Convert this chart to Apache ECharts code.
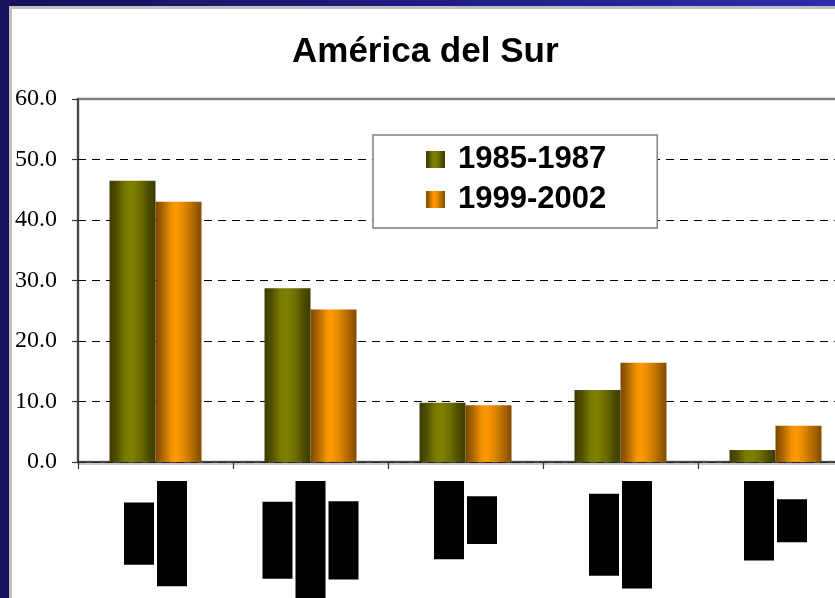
<!DOCTYPE html>
<html>
<head>
<meta charset="utf-8">
<script src="https://cdn.jsdelivr.net/npm/echarts@6/dist/echarts.min.js"></script>
<style>
    html, body { margin: 0; padding: 0; }
    body {
        width: 835px; height: 598px; overflow: hidden; position: relative;
        background: linear-gradient(90deg, #15125a 0%, #1e1c82 50%, #2c2cad 100%);
    }
    #sheet {
        position: absolute; left: 9px; top: 6px; right: 0; bottom: 0;
        background: #fff;
        border-left: 3px solid #c0c0c0; border-top: 3px solid #c0c0c0;
    }
    #chart { position: absolute; left: 0; top: 0; width: 835px; height: 598px; }
</style>
</head>
<body>
<div id="sheet"></div>
<div id="chart"></div>
<script>
// categorias (texto de eje girado) y valores por periodo
var categories = ["Carne\nHortalizas", "Raíces,\ntubérculos,\nFrijoles", "Aceites\nMaíz", "Leche y\nproductos", "Huevos\nMiel"];
var periods = ["1985-1987", "1999-2002"];
var v1985 = [46.5, 28.7, 9.8, 11.9, 2.0];
var v1999 = [43.0, 25.2, 9.4, 16.4, 6.0];

var myChart = echarts.init(document.getElementById('chart'));

// sombreado tipo cilindro de Excel
var olive = new echarts.graphic.LinearGradient(0, 0, 1, 0, [
    { offset: 0, color: '#3c3c00' },
    { offset: 0.15, color: '#4f4f00' },
    { offset: 0.35, color: '#7a7a00' },
    { offset: 0.5, color: '#808000' },
    { offset: 0.68, color: '#6c6c00' },
    { offset: 0.85, color: '#4d4d00' },
    { offset: 1, color: '#3c3c00' }
]);
var orange = new echarts.graphic.LinearGradient(0, 0, 1, 0, [
    { offset: 0, color: '#7a4800' },
    { offset: 0.15, color: '#a86400' },
    { offset: 0.35, color: '#f29200' },
    { offset: 0.45, color: '#ff9900' },
    { offset: 0.62, color: '#e08800' },
    { offset: 0.85, color: '#a86400' },
    { offset: 1, color: '#7f4c00' }
]);

var option = {
    animation: false,
    title: {
        text: 'América del Sur',
        left: 287,
        top: 30,
        textStyle: {
            fontFamily: 'Liberation Sans',
            fontSize: 35,
            fontWeight: 'bold',
            color: '#000'
        }
    },
    legend: {
        data: periods,
        orient: 'vertical',
        left: 373,
        top: 135,
        padding: [9, 51, 13, 53],
        itemGap: 9,
        itemWidth: 19,
        itemHeight: 17,
        icon: 'rect',
        backgroundColor: '#fff',
        borderColor: '#808080',
        borderWidth: 1.5,
        textStyle: {
            fontFamily: 'Liberation Sans',
            fontSize: 31,
            fontWeight: 'bold',
            color: '#000',
            padding: [0, 0, 0, 8]
        }
    },
    grid: {
        left: 78,
        top: 99,
        width: 775,
        height: 363,
        containLabel: false,
        outerBoundsMode: 'none',
        show: true,
        borderColor: '#808080',
        borderWidth: 2.5,
        backgroundColor: 'transparent'
    },
    xAxis: {
        type: 'category',
        data: categories,
        axisLine: {
            lineStyle: { color: '#333', width: 1.5, shadowColor: '#bbb', shadowOffsetY: 2 }
        },
        axisTick: { show: true, length: 7, lineStyle: { color: '#333', width: 1.2 } },
        axisLabel: {
            interval: 0,
            rotate: 90,
            margin: 19,
            lineHeight: 33,
            formatter: function (val) {
                return val.split('\n').map(function (s) { return '{b|' + s + '}'; }).join('\n');
            },
            rich: {
                b: {
                    fontFamily: 'Liberation Sans',
                    fontSize: 22,
                    fontWeight: 'bold',
                    color: '#000',
                    backgroundColor: '#000',
                    height: 30,
                    lineHeight: 33,
                    align: 'center'
                }
            }
        }
    },
    yAxis: {
        type: 'value',
        min: 0,
        max: 60,
        interval: 10,
        axisLine: { show: true, lineStyle: { color: '#333', width: 1.5 } },
        axisTick: { show: true, length: 6, lineStyle: { color: '#333', width: 1.2 } },
        axisLabel: {
            margin: 21,
            fontFamily: 'Liberation Serif',
            fontSize: 24,
            color: '#000',
            formatter: function (v) { return v.toFixed(1); }
        },
        splitLine: {
            show: true,
            lineStyle: {
                color: ['#000', '#000', '#000', '#000', '#000', '#000', 'rgba(0,0,0,0)'],
                width: 1.2,
                type: [8, 6]
            }
        }
    },
    series: [{
        name: periods[0],
        type: 'bar',
        barWidth: 46,
        barGap: '0%',
        itemStyle: { color: olive },
        data: v1985
    }, {
        name: periods[1],
        type: 'bar',
        barWidth: 46,
        barGap: '0%',
        itemStyle: { color: orange },
        data: v1999
    }]
};
myChart.setOption(option);
</script>
</body>
</html>
